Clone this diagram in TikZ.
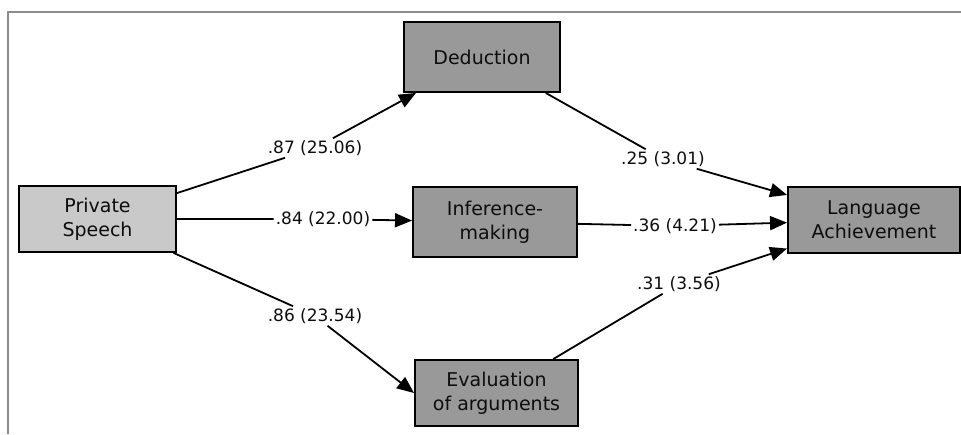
\documentclass[tikz,border=0pt]{standalone}
\usepackage{fontspec}
\setmainfont{DejaVu Sans}
\usetikzlibrary{arrows.meta}
\definecolor{boxgrey}{gray}{0.6}
\definecolor{speechgrey}{gray}{0.79}
\definecolor{framegrey}{gray}{0.55}
\begin{document}
\begin{tikzpicture}[x=1pt, y=-1pt,
  box/.style={draw, line width=1.9pt, fill=boxgrey, align=center,
    font=\fontsize{19}{24}\selectfont, text=black!95},
  coef/.style={font=\fontsize{17}{20}\selectfont, inner sep=2pt, text=black!95},
  link/.style={-{Triangle[length=17pt,width=14pt]}, line width=1.8pt}]
  \useasboundingbox (0,0) rectangle (961,434);
  % frame
  \draw[framegrey, line width=2pt] (8,434) -- (8,12) -- (961,12);

  % Private Speech
  \node[box, fill=speechgrey, minimum width=157pt, minimum height=66pt] (speech) at (97.5,219) {Private\\Speech};

  % mediators
  \node[box, minimum width=156pt, minimum height=70pt] (deduction) at (482,57) {Deduction};
  \node[box, minimum width=164pt, minimum height=70pt] (inference) at (495,222) {Inference-\\making};
  \node[box, minimum width=163pt, minimum height=66pt] (evaluation) at (496.5,393) {Evaluation\\of arguments};

  % Language Achievement
  \node[box, minimum width=172pt, minimum height=66pt] (achievement) at (874,220) {Language\\Achievement};

  % coefficients
  \node[coef] (c87) at (315,148) {.87 (25.06)};
  \node[coef] (c84) at (323,219) {.84 (22.00)};
  \node[coef] (c86) at (315,316) {.86 (23.54)};
  \node[coef] (c25) at (663,159) {.25 (3.01)};
  \node[coef] (c36) at (675,226) {.36 (4.21)};
  \node[coef] (c31) at (679,284) {.31 (3.56)};

  % paths
  \draw[link] (speech) -- (c87) -- (deduction);
  \draw[link] (speech) -- (c84) -- (inference);
  \draw[link] (speech) -- (c86) -- (evaluation.west);
  \draw[link] (deduction) -- (c25) -- (achievement);
  \draw[link] (inference) -- (c36) -- (achievement);
  \draw[link] (evaluation) -- (c31) -- (achievement);
\end{tikzpicture}
\end{document}
